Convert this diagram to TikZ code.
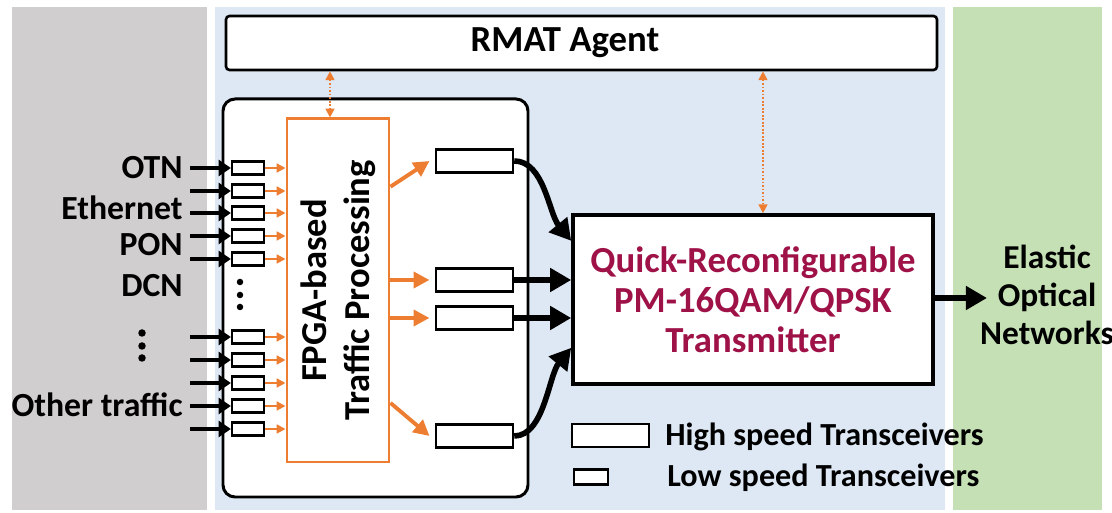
\documentclass[tikz,border=0pt]{standalone}
\usepackage{fontspec}
\setmainfont{Carlito}
\usepackage{tikz}
\usetikzlibrary{
	arrows.meta,
	calc,
	positioning
}
\definecolor{PanelGray}{RGB}{208,206,206}
\definecolor{PanelBlue}{RGB}{221,232,244}
\definecolor{PanelGreen}{RGB}{197,224,180}
\definecolor{FpgaOrange}{RGB}{237,125,49}
\definecolor{TxRed}{RGB}{158,18,72}

\tikzset{
	lowspeed/.style={draw, fill=white, line width=1.2pt, minimum width=0.64cm, minimum height=0.26cm, inner sep=0pt},
	highspeed/.style={draw, fill=white, line width=1.4pt, minimum width=1.54cm, minimum height=0.46cm, inner sep=0pt},
	inarrow/.style={line width=2.5pt, -{Triangle[length=7pt,width=9pt]}},
	outarrow/.style={line width=3.2pt, -{Triangle[length=12pt,width=13pt]}},
	smallorange/.style={FpgaOrange, line width=1.2pt, -{Triangle[length=5pt,width=5pt]}},
	bigorange/.style={FpgaOrange, line width=2.2pt, -{Triangle[length=9pt,width=9pt]}},
	ctrl/.style={FpgaOrange, line width=1pt, densely dotted, {Triangle[length=5pt,width=5pt]}-{Triangle[length=5pt,width=5pt]}},
	label/.style={font=\fontsize{19.2}{22}\selectfont\bfseries, inner sep=0pt}
}

\begin{document}
\begin{tikzpicture}
	\useasboundingbox (0,0) rectangle (22.24,-10.26);
	% panels
	\fill[PanelGray] (0.24,-0.14) rectangle (4.14,-10.2);
	\fill[PanelBlue] (4.3,-0.14) rectangle (18.9,-10.2);
	\fill[PanelGreen] (19.06,-0.14) rectangle (22.04,-10.2);

	\node[draw, fill=white, line width=1.5pt, rounded corners=2pt, minimum width=14.22cm, minimum height=1.08cm] (rmat) at (11.63,-0.86) {};
	\node[font=\fontsize{20.9}{24}\selectfont\bfseries] (rmattext) at (11.3,-0.86) {RMAT Agent};

	\node[draw, fill=white, line width=1.7pt, rounded corners=0.24cm, minimum width=6.1cm, minimum height=7.96cm] (card) at (7.51,-5.96) {};
	\node[draw=FpgaOrange, line width=1.7pt, minimum width=2.04cm, minimum height=6.86cm, inner sep=0pt] (fpga) at (6.76,-5.81) {};
	\node[rotate=90, align=center, font=\fontsize{20.8}{24.5}\selectfont\bfseries] at (fpga.center) {FPGA-based\\Traffic Processing};

	% low speed side
	\foreach \i/\y in {1/-3.36,2/-3.82,3/-4.26,4/-4.72,5/-5.18,6/-6.74,7/-7.2,8/-7.66,9/-8.12,10/-8.58} {
		\node[lowspeed] (ls\i) at (4.96,\y) {};
		\coordinate (in\i) at (3.8,\y);
		\draw[inarrow] (in\i) -- (ls\i.west);
		\draw[smallorange] (ls\i.east) -- (fpga.west |- ls\i.east);
	}
	\foreach \y in {-5.64,-5.9,-6.14}
		\fill (4.8,\y) circle (0.065);
	\foreach \y in {-6.66,-6.92,-7.16}
		\fill (2.84,\y) circle (0.075);

	\node[label, anchor=east] (otn) at (3.66,-3.36) {OTN};
	\node[label, anchor=east] (eth) at (3.66,-4.16) {Ethernet};
	\node[label, anchor=east] (pon) at (3.66,-4.9) {PON};
	\node[label, anchor=east] (dcn) at (3.66,-5.72) {DCN};
	\node[label, anchor=east] (other) at (3.66,-8.1) {Other traffic};

	% high speed side
	\node[highspeed] (hs1) at (9.49,-3.22) {};
	\node[highspeed] (hs2) at (9.49,-5.6) {};
	\node[highspeed] (hs3) at (9.49,-6.36) {};
	\node[highspeed] (hs4) at (9.49,-8.72) {};

	\draw[bigorange] ($(fpga.north east)!0.2!(fpga.south east)$) -- ([xshift=-3pt]hs1.west);
	\draw[bigorange] (fpga.east |- hs2.west) -- ([xshift=-3pt]hs2.west);
	\draw[bigorange] (fpga.east |- hs3.west) -- ([xshift=-3pt]hs3.west);
	\draw[bigorange] ($(fpga.north east)!0.825!(fpga.south east)$) -- ([xshift=-3pt]hs4.west);

	\node[draw, fill=white, line width=2pt, minimum width=7.2cm, minimum height=3.38cm, align=center, text=TxRed, font=\fontsize{20.9}{22.8}\selectfont\bfseries] (tx) at (15.06,-5.99) {Quick-Reconfigurable\\PM-16QAM/QPSK\\Transmitter};

	\draw[outarrow] (hs1.east) .. controls +(0.6,0) and +(-0.45,0.55) .. ($(tx.north west)!0.16!(tx.south west)$);
	\draw[outarrow] (hs2.east) -- (tx.west |- hs2.east);
	\draw[outarrow] (hs3.east) -- (tx.west |- hs3.east);
	\draw[outarrow] (hs4.east) .. controls +(0.6,0) and +(-0.45,-0.55) .. ($(tx.north west)!0.78!(tx.south west)$);

	% control lines
	\draw[ctrl] ([xshift=-0.16cm]rmat.south -| fpga.north) -- ([xshift=-0.16cm]fpga.north);
	\draw[ctrl] ([xshift=0.2cm]rmat.south -| tx.north) -- ([xshift=0.2cm]tx.north);

	% to the network
	\coordinate (net) at (19.74,-5.96);
	\draw[outarrow] (tx.east |- net) -- (net);
	\node[align=center, font=\fontsize{19}{21.6}\selectfont\bfseries] (eon) at (20.94,-5.9) {Elastic\\Optical\\Networks};

	% legend
	\node[highspeed] (leghs) at (12.21,-8.71) {};
	\node[lowspeed, minimum width=0.68cm, minimum height=0.3cm] (legls) at (11.82,-9.54) {};
	\node[label, anchor=west, font=\fontsize{18.3}{21}\selectfont\bfseries] at (13.3,-8.74) {High speed Transceivers};
	\node[label, anchor=west, font=\fontsize{18.3}{21}\selectfont\bfseries] at (13.34,-9.56) {Low speed Transceivers};
\end{tikzpicture}
\end{document}
